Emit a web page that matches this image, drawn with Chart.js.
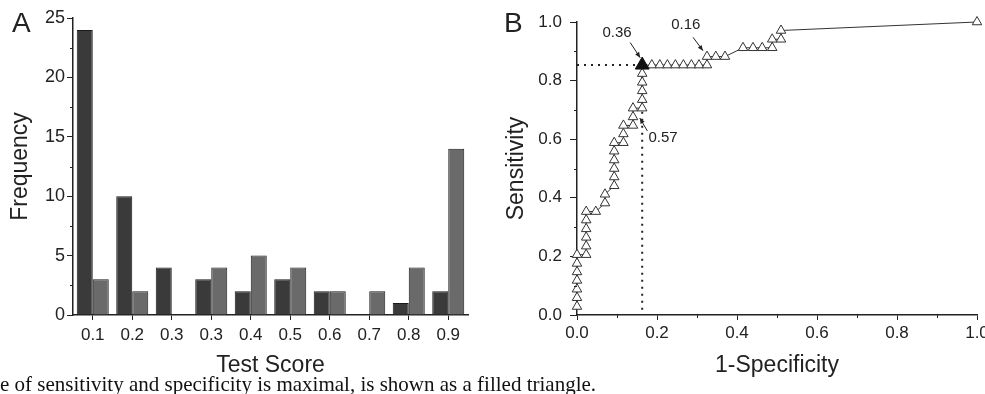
<!DOCTYPE html>
<html>
<head>
<meta charset="utf-8">
<script src="https://cdn.jsdelivr.net/npm/chart.js@4.4.0/dist/chart.umd.min.js"></script>
<style>
  html, body { margin: 0; padding: 0; background: #fff; overflow: hidden; }
  body { width: 985px; height: 394px; position: relative; font-family: "Liberation Sans", Arial, sans-serif; }
  #wrapA { position: absolute; left: 0; top: 0; width: 490px; height: 380px; }
  #wrapB { position: absolute; left: 490px; top: 0; width: 510px; height: 380px; }
  .panel { position: absolute; font-size: 28px; line-height: 28px; color: #222; }
  #caption { position: absolute; left: 0; top: 374px; font-family: "Liberation Serif", "Times New Roman", serif;
             font-size: 21px; line-height: 21px; white-space: nowrap; color: #111; }
</style>
</head>
<body>
<div id="wrapA"><canvas id="barChart" width="490" height="380"></canvas></div>
<div id="wrapB"><canvas id="rocChart" width="510" height="380"></canvas></div>
<div class="panel" style="left:12px; top:9px;">A</div>
<div class="panel" style="left:504px; top:9px;">B</div>
<div id="caption">e of sensitivity and specificity is maximal, is shown as a filled triangle.</div>

<script>
// panel A - histogram of test scores
const scoreLabels = ['0.1', '0.2', '0.3', '0.3', '0.4', '0.5', '0.6', '0.7', '0.8', '0.9'];
const darkCounts = [24, 10, 4, 3, 2, 3, 2, 0, 1, 2];
const lightCounts = [3, 2, 0, 4, 5, 4, 2, 2, 4, 14];

// panel B - ROC curve
const rocX = [0, 0, 0, 0, 0, 0, 0,
  0.023, 0.023, 0.023, 0.023, 0.023, 0.023,
  0.047, 0.07, 0.07,
  0.093, 0.093, 0.093, 0.093, 0.093, 0.093,
  0.116, 0.116, 0.116, 0.14, 0.14, 0.14,
  0.163, 0.163, 0.163, 0.163, 0.163, 0.163,
  0.187, 0.207, 0.226, 0.246, 0.266, 0.286, 0.305, 0.325,
  0.325, 0.347, 0.37,
  0.415, 0.44, 0.463, 0.488,
  0.488, 0.51, 0.51, 1.0];
const rocY = [0.029, 0.059, 0.088, 0.118, 0.147, 0.176, 0.206,
  0.206, 0.235, 0.265, 0.294, 0.324, 0.353,
  0.353, 0.382, 0.412,
  0.441, 0.471, 0.5, 0.529, 0.559, 0.588,
  0.588, 0.618, 0.647, 0.647, 0.676, 0.706,
  0.706, 0.735, 0.765, 0.794, 0.824, 0.853,
  0.853, 0.853, 0.853, 0.853, 0.853, 0.853, 0.853, 0.853,
  0.882, 0.882, 0.882,
  0.912, 0.912, 0.912, 0.912,
  0.941, 0.941, 0.971, 1.0];
const cutX = 0.163;
const cutY = 0.853;

// callouts on the ROC plot (data units)
const callouts = [
  { text: '0.36', tx: 0.10, ty: 0.962, from: [0.133, 0.930], to: [0.158, 0.878] },
  { text: '0.16', tx: 0.272, ty: 0.99, from: [0.29, 0.948], to: [0.315, 0.902] },
  { text: '0.57', tx: 0.215, ty: 0.604, from: [0.176, 0.628], to: [0.157, 0.672] }
];

const ink = '#222';
const tickFont = { family: 'Liberation Sans, Arial, sans-serif', size: 17 };
const titleFont = { family: 'Liberation Sans, Arial, sans-serif', size: 23 };

// short ticks half way between the labelled ones
const minorTicks = {
  id: 'minorTicks',
  afterDraw(chart, args, opts) {
    const ctx = chart.ctx;
    ctx.save();
    ctx.strokeStyle = ink;
    ctx.lineWidth = 1;
    for (const id in opts.steps) {
      const s = chart.scales[id];
      const step = opts.steps[id];
      for (let i = 1; s.min + i * step <= s.max + 1e-9; i += 2) {
        const v = s.min + i * step;
        const p = Math.round(s.getPixelForValue(v)) + 0.5;
        ctx.beginPath();
        if (s.isHorizontal()) {
          ctx.moveTo(p, s.top);
          ctx.lineTo(p, s.top + 3);
        } else {
          ctx.moveTo(s.right, p);
          ctx.lineTo(s.right - 3, p);
        }
        ctx.stroke();
      }
    }
    ctx.restore();
  }
};

const calloutPlugin = {
  id: 'callouts',
  afterDatasetsDraw(chart) {
    const ctx = chart.ctx;
    const xs = chart.scales.x, ys = chart.scales.y;
    ctx.save();
    ctx.fillStyle = ink;
    ctx.strokeStyle = ink;
    ctx.lineWidth = 1;
    ctx.font = '15px Liberation Sans, Arial, sans-serif';
    ctx.textAlign = 'center';
    ctx.textBaseline = 'middle';
    callouts.forEach(c => {
      ctx.fillText(c.text, xs.getPixelForValue(c.tx), ys.getPixelForValue(c.ty));
      const x1 = xs.getPixelForValue(c.from[0]), y1 = ys.getPixelForValue(c.from[1]);
      const x2 = xs.getPixelForValue(c.to[0]), y2 = ys.getPixelForValue(c.to[1]);
      ctx.beginPath();
      ctx.moveTo(x1, y1);
      ctx.lineTo(x2, y2);
      ctx.stroke();
      const a = Math.atan2(y2 - y1, x2 - x1);
      ctx.beginPath();
      ctx.moveTo(x2, y2);
      ctx.lineTo(x2 - 6 * Math.cos(a - 0.4), y2 - 6 * Math.sin(a - 0.4));
      ctx.lineTo(x2 - 6 * Math.cos(a + 0.4), y2 - 6 * Math.sin(a + 0.4));
      ctx.closePath();
      ctx.fill();
    });
    ctx.restore();
  }
};

const barChart = new Chart(document.getElementById('barChart').getContext('2d'), {
  type: 'bar',
  data: {
    labels: scoreLabels,
    datasets: [
      {
        data: darkCounts,
        backgroundColor: '#3a3a3a',
        borderColor: '#1a1a1a',
        borderWidth: 1
      },
      {
        data: lightCounts,
        backgroundColor: '#6a6a6a',
        borderColor: '#1a1a1a',
        borderWidth: 1
      }
    ]
  },
  plugins: [minorTicks],
  options: {
    responsive: false,
    animation: false,
    layout: { padding: { left: 0, top: 18, right: 22, bottom: 0 } },
    datasets: { bar: { categoryPercentage: 0.81, barPercentage: 1.0 } },
    scales: {
      x: {
        grid: { offset: false, drawOnChartArea: false, tickLength: 5, color: ink },
        border: { color: ink, width: 1.5 },
        ticks: { color: ink, font: tickFont, padding: 5, maxRotation: 0, autoSkip: false },
        title: { display: true, text: 'Test Score', color: ink, font: titleFont, padding: { top: 0, bottom: 1 } },
        afterFit: s => { s.height = 65; }
      },
      y: {
        min: 0,
        max: 25,
        grid: { drawOnChartArea: false, tickLength: 6, color: ink },
        border: { color: ink, width: 1.5 },
        ticks: { stepSize: 5, color: ink, font: { family: tickFont.family, size: 18 }, padding: 2 },
        title: { display: true, text: 'Frequency', color: ink, font: titleFont, padding: { top: 7, bottom: 0 } },
        afterFit: s => { s.width = 73; }
      }
    },
    plugins: {
      legend: { display: false },
      tooltip: { enabled: false },
      minorTicks: { steps: { y: 2.5 } }
    }
  }
});

const rocChart = new Chart(document.getElementById('rocChart').getContext('2d'), {
  type: 'scatter',
  data: {
    datasets: [
      {
        data: [{ x: cutX, y: cutY }],
        pointStyle: 'triangle',
        pointRadius: 8,
        pointBackgroundColor: '#111',
        pointBorderColor: '#111',
        order: 0,
        clip: false
      },
      {
        data: rocX.map((x, i) => ({ x: x, y: rocY[i] })),
        showLine: true,
        borderColor: '#333',
        borderWidth: 1,
        pointStyle: 'triangle',
        pointRadius: 5.5,
        pointBackgroundColor: '#fff',
        pointBorderColor: '#333',
        pointBorderWidth: 1,
        order: 1,
        clip: false
      },
      {
        data: [{ x: 0, y: cutY }, { x: cutX, y: cutY }, { x: cutX, y: 0 }],
        showLine: true,
        borderColor: ink,
        borderWidth: 2,
        borderDash: [2, 5],
        pointRadius: 0,
        order: 2
      }
    ]
  },
  plugins: [minorTicks, calloutPlugin],
  options: {
    responsive: false,
    animation: false,
    layout: { padding: { left: 0, top: 22, right: 23, bottom: 0 } },
    scales: {
      x: {
        type: 'linear',
        min: 0,
        max: 1,
        grid: { drawOnChartArea: false, tickLength: 5, color: ink },
        border: { color: ink, width: 1.5 },
        ticks: { stepSize: 0.2, color: ink, font: tickFont, padding: 3, maxRotation: 0,
                 callback: v => v.toFixed(1) },
        title: { display: true, text: '1-Specificity', color: ink, font: titleFont, padding: { top: 0, bottom: 1 } },
        afterFit: s => { s.height = 65; }
      },
      y: {
        min: 0,
        max: 1,
        grid: { drawOnChartArea: false, tickLength: 7, color: ink },
        border: { color: ink, width: 1.5 },
        ticks: { stepSize: 0.2, color: ink, font: tickFont, padding: 8, callback: v => v.toFixed(1) },
        title: { display: true, text: 'Sensitivity', color: ink, font: titleFont, padding: { top: 13, bottom: 0 } },
        afterFit: s => { s.width = 87; }
      }
    },
    plugins: {
      legend: { display: false },
      tooltip: { enabled: false },
      minorTicks: { steps: { x: 0.1, y: 0.1 } }
    }
  }
});
</script>
</body>
</html>
